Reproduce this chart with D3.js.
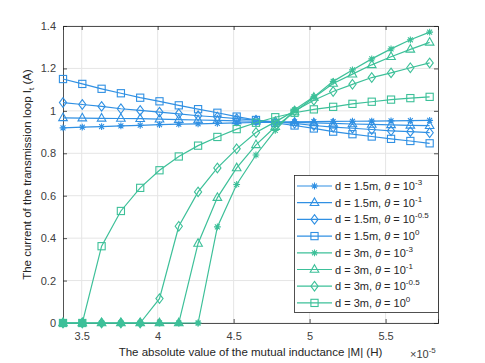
<!DOCTYPE html>
<html>
<head>
<meta charset="utf-8">
<script src="https://cdn.jsdelivr.net/npm/d3@7"></script>
<style>
  body { margin: 0; background: #fff; }
  text { font-family: "Liberation Sans", Arial, sans-serif; }
</style>
</head>
<body>
<div id="chart"></div>
<script>
// Data (|M| in units of 1e-5 H)
const mValues = [3.377, 3.504, 3.631, 3.758, 3.885, 4.012, 4.139, 4.266, 4.393, 4.520,
                 4.647, 4.774, 4.901, 5.028, 5.155, 5.282, 5.409, 5.536, 5.663, 5.790];

const d15Theta3 = [0.920, 0.923, 0.926, 0.929, 0.932, 0.935, 0.937, 0.939, 0.941, 0.943,
                   0.945, 0.946, 0.948, 0.949, 0.950, 0.951, 0.952, 0.953, 0.954, 0.955];
const d15Theta1 = [0.967, 0.966, 0.965, 0.964, 0.963, 0.961, 0.959, 0.957, 0.955, 0.953,
                   0.951, 0.948, 0.946, 0.943, 0.941, 0.938, 0.936, 0.934, 0.932, 0.930];
const d15Theta05 = [1.039, 1.030, 1.021, 1.010, 1.002, 0.994, 0.986, 0.977, 0.971, 0.963,
                    0.956, 0.948, 0.941, 0.931, 0.923, 0.918, 0.912, 0.906, 0.902, 0.897];
const d15Theta0 = [1.150, 1.127, 1.104, 1.083, 1.062, 1.045, 1.026, 1.008, 0.991, 0.973,
                   0.957, 0.943, 0.931, 0.917, 0.902, 0.890, 0.879, 0.868, 0.858, 0.847];

const d3Theta3 = [0, 0, 0, 0, 0, 0, 0, 0, 0.453, 0.653,
                  0.792, 0.908, 1.005, 1.066, 1.139, 1.193, 1.245, 1.292, 1.335, 1.371];
const d3Theta1 = [0, 0, 0, 0, 0, 0, 0, 0.375, 0.591, 0.731,
                  0.840, 0.925, 0.995, 1.063, 1.129, 1.173, 1.217, 1.255, 1.290, 1.323];
const d3Theta05 = [0, 0, 0, 0, 0, 0.115, 0.456, 0.618, 0.731, 0.821,
                   0.898, 0.948, 1.000, 1.050, 1.091, 1.125, 1.157, 1.179, 1.203, 1.226];
const d3Theta0 = [0, 0, 0.362, 0.528, 0.637, 0.720, 0.785, 0.836, 0.877, 0.914,
                  0.944, 0.970, 0.991, 1.007, 1.019, 1.033, 1.043, 1.053, 1.060, 1.066];

const xTicks = [3.5, 4, 4.5, 5, 5.5];
const yTicks = [0, 0.2, 0.4, 0.6, 0.8, 1, 1.2, 1.4];

const seriesD = ["1.5", "1.5", "1.5", "1.5", "3", "3", "3", "3"];
const seriesExp = ["-3", "-1", "-0.5", "0", "-3", "-1", "-0.5", "0"];
const seriesMarker = ["star", "triangle", "diamond", "square", "star", "triangle", "diamond", "square"];
const seriesValues = [d15Theta3, d15Theta1, d15Theta05, d15Theta0, d3Theta3, d3Theta1, d3Theta05, d3Theta0];

// Chart configuration
const width = 485;
const height = 363;
const plot = { left: 63, right: 438, top: 26, bottom: 323 };
const blue = "#3090e3";
const green = "#3dc099";
const axisColor = "#262626";
const tickColor = "#404040";

const x = d3.scaleLinear().domain([3.377, 5.845]).range([plot.left, plot.right]);
const y = d3.scaleLinear().domain([0, 1.4]).range([plot.bottom, plot.top]);

const svg = d3.select("#chart")
    .append("svg")
    .attr("width", width)
    .attr("height", height);

// Grid
const grid = svg.append("g");
grid.selectAll(".gx").data(xTicks).join("line")
    .attr("x1", d => x(d)).attr("x2", d => x(d))
    .attr("y1", plot.top).attr("y2", plot.bottom)
    .attr("stroke", "#e5e5e5").attr("stroke-width", 1);
grid.selectAll(".gy").data(yTicks).join("line")
    .attr("x1", plot.left).attr("x2", plot.right)
    .attr("y1", d => y(d)).attr("y2", d => y(d))
    .attr("stroke", "#e5e5e5").attr("stroke-width", 1);

// Axes (MATLAB style: ticks inside, box on)
const xAxis = svg.append("g")
    .attr("transform", `translate(0,${plot.bottom})`)
    .call(d3.axisBottom(x).tickValues(xTicks).tickSize(-4).tickPadding(9).tickFormat(d3.format("")));
const xAxisTop = svg.append("g")
    .attr("transform", `translate(0,${plot.top})`)
    .call(d3.axisTop(x).tickValues(xTicks).tickSize(-4).tickFormat(""));
const yAxis = svg.append("g")
    .attr("transform", `translate(${plot.left},0)`)
    .call(d3.axisLeft(y).tickValues(yTicks).tickSize(-4).tickPadding(7).tickFormat(d3.format("")));
const yAxisRight = svg.append("g")
    .attr("transform", `translate(${plot.right},0)`)
    .call(d3.axisRight(y).tickValues(yTicks).tickSize(-4).tickFormat(""));

[xAxis, xAxisTop, yAxis, yAxisRight].forEach(g => {
  g.select(".domain").attr("stroke", axisColor).attr("stroke-width", 0.8);
  g.selectAll(".tick line").attr("stroke", axisColor).attr("stroke-width", 0.8);
  g.selectAll(".tick text").attr("fill", tickColor).style("font-size", "11px");
});

// Markers
function drawMarker(g, type, color, fill) {
  const f = fill ? color : "none";
  if (type === "star") {
    const r = 3.4;
    g.append("path")
      .attr("d", `M${-r},0H${r}M0,${-r}V${r}M${-r * 0.72},${-r * 0.72}L${r * 0.72},${r * 0.72}M${-r * 0.72},${r * 0.72}L${r * 0.72},${-r * 0.72}`)
      .attr("stroke", color).attr("stroke-width", fill ? 1.6 : 1.1).attr("fill", "none");
  } else if (type === "triangle") {
    g.append("path").attr("d", "M0,-4.8L4.3,2.8L-4.3,2.8Z")
      .attr("stroke", color).attr("stroke-width", 1.1).attr("fill", f);
  } else if (type === "diamond") {
    g.append("path").attr("d", "M0,-4.8L3.6,0L0,4.8L-3.6,0Z")
      .attr("stroke", color).attr("stroke-width", 1.1).attr("fill", f);
  } else {
    g.append("rect").attr("x", -3.6).attr("y", -3.6).attr("width", 7.2).attr("height", 7.2)
      .attr("stroke", color).attr("stroke-width", 1.1).attr("fill", f);
  }
}

const line = d3.line().x(d => x(d[0])).y(d => y(d[1]));

seriesValues.forEach((vals, si) => {
  const color = si < 4 ? blue : green;
  const pts = mValues.map((m, i) => [m, vals[i]]);
  const g = svg.append("g");
  g.append("path").datum(pts)
    .attr("d", line)
    .attr("fill", "none")
    .attr("stroke", color)
    .attr("stroke-width", 1.2);
  pts.forEach(p => {
    const mg = g.append("g").attr("transform", `translate(${x(p[0])},${y(p[1])})`);
    // markers piled up on the zero line render as solid blobs in the original
    drawMarker(mg, seriesMarker[si], color, p[1] === 0);
  });
});

// Labels
svg.append("text")
    .attr("x", (plot.left + plot.right) / 2)
    .attr("y", 356)
    .attr("text-anchor", "middle")
    .attr("fill", axisColor)
    .style("font-size", "11.5px")
    .text("The absolute value of the mutual inductance |M| (H)");

const yl = svg.append("text")
    .attr("transform", `translate(31,${(plot.top + plot.bottom) / 2}) rotate(-90)`)
    .attr("text-anchor", "middle")
    .attr("fill", axisColor)
    .style("font-size", "11.5px");
yl.append("tspan").text("The current of the transmission loop I");
yl.append("tspan").attr("dy", 3).style("font-size", "8px").text("t");
yl.append("tspan").attr("dy", -3).text(" (A)");

const ex = svg.append("text")
    .attr("x", 410)
    .attr("y", 358)
    .attr("fill", tickColor)
    .style("font-size", "11px");
ex.append("tspan").text("\u00d710");
ex.append("tspan").attr("dy", -5).style("font-size", "8px").text("-5");

// Legend
const legend = svg.append("g");
legend.append("rect")
    .attr("x", 294.5).attr("y", 175.5)
    .attr("width", 144).attr("height", 137)
    .attr("fill", "#fff")
    .attr("stroke", axisColor)
    .attr("stroke-width", 0.8);

seriesValues.forEach((vals, si) => {
  const color = si < 4 ? blue : green;
  const cy = 186 + si * 16.7;
  const row = legend.append("g");
  row.append("line")
    .attr("x1", 297).attr("x2", 332)
    .attr("y1", cy).attr("y2", cy)
    .attr("stroke", color).attr("stroke-width", 1.2);
  drawMarker(row.append("g").attr("transform", `translate(314.5,${cy})`), seriesMarker[si], color, false);
  const t = row.append("text")
    .attr("x", 335).attr("y", cy + 4)
    .attr("fill", axisColor)
    .style("font-size", "11px");
  t.append("tspan").text(`d = ${seriesD[si]}m, `);
  t.append("tspan").style("font-style", "italic").text("\u03b8");
  t.append("tspan").text(" = 10");
  t.append("tspan").attr("dy", -5).style("font-size", "8px").text(seriesExp[si]);
});
</script>
</body>
</html>
